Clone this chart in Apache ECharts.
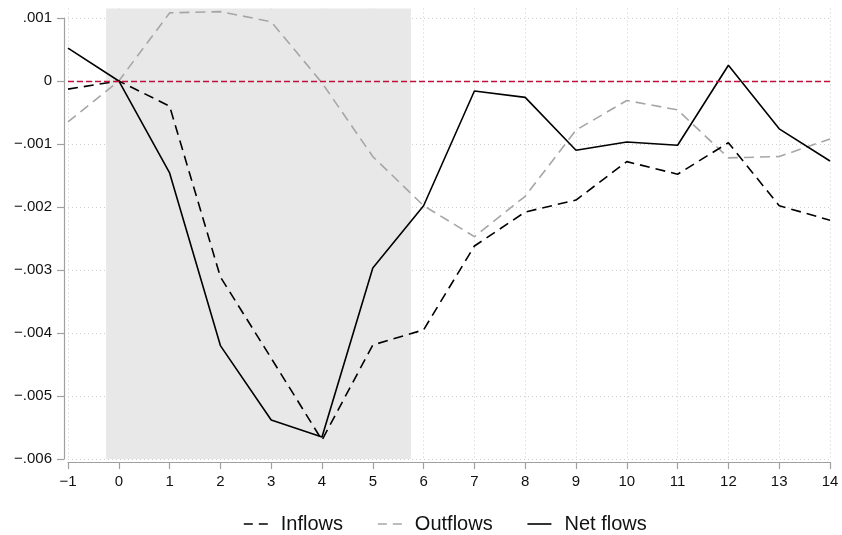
<!DOCTYPE html>
<html>
<head>
    <meta charset="utf-8">
    <title>Flows</title>
    <script src="https://cdn.jsdelivr.net/npm/echarts@6/dist/echarts.min.js"></script>
    <style>
        html, body { margin: 0; padding: 0; background: #fff; }
        #main { width: 842px; height: 535px; }
    </style>
</head>
<body>
<div id="main"></div>
<script type="text/javascript">
    // horizon (x) and the three series
    var horizon = [-1, 0, 1, 2, 3, 4, 5, 6, 7, 8, 9, 10, 11, 12, 13, 14];
    var inflows = [-0.00013, 0, -0.0004, -0.00311, -0.0044, -0.0057, -0.00419, -0.00395, -0.00262, -0.00208, -0.00189, -0.00128, -0.00148, -0.00098, -0.00198, -0.00221];
    var outflows = [-0.00065, 0, 0.00108, 0.0011, 0.00094, -0.00003, -0.0012, -0.00198, -0.00247, -0.00183, -0.00078, -0.00031, -0.00046, -0.00122, -0.0012, -0.00092];
    var netflows = [0.00052, 0, -0.00146, -0.0042, -0.00538, -0.00565, -0.00297, -0.00198, -0.00016, -0.00026, -0.0011, -0.00097, -0.00102, 0.00025, -0.00076, -0.00127];

    var yTicks = [-0.006, -0.005, -0.004, -0.003, -0.002, -0.001, 0, 0.001];
    var yTickLabels = ['\u2212.006', '\u2212.005', '\u2212.004', '\u2212.003', '\u2212.002', '\u2212.001', '0', '.001'];
    var shadeFrom = -0.25, shadeTo = 5.75;

    function pairs(ys) {
        return horizon.map(function (x, i) { return [x, ys[i]]; });
    }

    var font = '"Liberation Sans", Arial, Helvetica, sans-serif';
    var dom = document.getElementById('main');
    var myChart = echarts.init(dom, null, { renderer: 'canvas' });

    var axisGray = '#a0a0a0';
    var gridDots = { color: '#cfcfcf', type: [1, 3], width: 1 };

    var option = {
        animation: false,
        backgroundColor: '#fff',
        textStyle: { fontFamily: font },
        grid: [
            { left: 68, right: 12, top: 8.5, bottom: 76 },
            { left: 68, right: 12, top: 18, bottom: 76 }
        ],
        legend: {
            left: 238,
            top: 509,
            itemGap: 34,
            itemWidth: 24,
            itemHeight: 12,
            itemStyle: { opacity: 0 },
            textStyle: { fontSize: 20, color: '#111', fontFamily: font, padding: [0, 0, 0, 8] },
            data: [
                { name: 'Inflows', lineStyle: { color: '#000', type: [9, 6], width: 1.6 } },
                { name: 'Outflows', lineStyle: { color: '#a6a6a6', type: [9, 6], width: 1.6 } },
                { name: 'Net flows', lineStyle: { color: '#000', type: 'solid', width: 1.6 } }
            ]
        },
        xAxis: [
            {
                gridIndex: 0, type: 'value', min: -1, max: 14, interval: 1,
                offset: 3,
                axisLine: { show: true, onZero: false, lineStyle: { color: axisGray, width: 1.2 } },
                axisTick: { show: true, length: 7, lineStyle: { color: axisGray, width: 1.2 } },
                axisLabel: {
                    fontSize: 15, color: '#111', margin: 12,
                    formatter: function (v) { return v < 0 ? '\u2212' + Math.abs(v) : String(v); }
                },
                splitLine: { show: true, lineStyle: gridDots }
            },
            {
                gridIndex: 1, type: 'value', min: -1, max: 14, show: false,
                axisLine: { onZero: false }
            }
        ],
        yAxis: [
            {
                gridIndex: 0, type: 'value', min: -0.006, max: 0.00115,
                axisLine: { show: false, onZero: false }, axisTick: { show: false },
                axisLabel: { show: false }, splitLine: { show: false }
            },
            {
                gridIndex: 1, type: 'value', min: -0.006, max: 0.001, interval: 0.001,
                offset: 4,
                axisLine: { show: true, onZero: false, lineStyle: { color: axisGray, width: 1.2 } },
                axisTick: { show: true, length: 7, lineStyle: { color: axisGray, width: 1.2 } },
                axisLabel: {
                    fontSize: 15, color: '#111', margin: 12,
                    formatter: function (v) {
                        for (var i = 0; i < yTicks.length; i++) {
                            if (Math.abs(yTicks[i] - v) < 1e-9) return yTickLabels[i];
                        }
                        return '';
                    }
                },
                splitLine: { show: true, lineStyle: gridDots }
            }
        ],
        series: [
            {
                name: 'Inflows',
                type: 'line',
                xAxisIndex: 0, yAxisIndex: 0,
                data: pairs(inflows),
                symbol: 'none',
                z: 3,
                color: '#000',
                lineStyle: { color: '#000', width: 1.6, type: [10, 6] },
                markArea: {
                    silent: true,
                    itemStyle: { color: '#e8e8e8' },
                    data: [[{ xAxis: shadeFrom }, { xAxis: shadeTo }]]
                },
                markLine: {
                    silent: true,
                    symbol: 'none',
                    label: { show: false },
                    lineStyle: { color: '#c0103c', width: 1.4, type: [6, 3] },
                    data: [{ yAxis: 0 }]
                }
            },
            {
                name: 'Outflows',
                type: 'line',
                xAxisIndex: 0, yAxisIndex: 0,
                data: pairs(outflows),
                symbol: 'none',
                z: 2,
                color: '#a6a6a6',
                lineStyle: { color: '#a6a6a6', width: 1.6, type: [10, 6] }
            },
            {
                name: 'Net flows',
                type: 'line',
                xAxisIndex: 0, yAxisIndex: 0,
                data: pairs(netflows),
                symbol: 'none',
                z: 4,
                color: '#000',
                lineStyle: { color: '#000', width: 1.6 }
            }
        ]
    };

    myChart.setOption(option);
    window.addEventListener('resize', myChart.resize);
</script>
</body>
</html>
